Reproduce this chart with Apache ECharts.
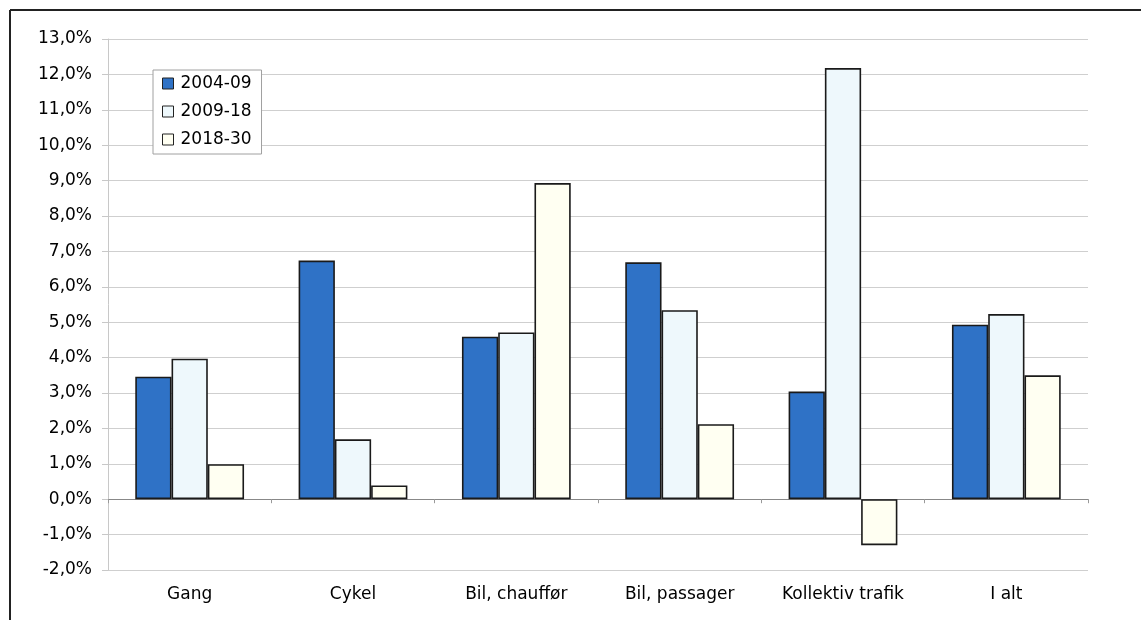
<!DOCTYPE html>
<html>
<head>
<meta charset="utf-8">
<script src="https://cdn.jsdelivr.net/npm/echarts@6/dist/echarts.min.js"></script>
<style>
html,body{margin:0;padding:0;background:#fff;}
#chart{width:1141px;height:620px;}
</style>
</head>
<body>
<div id="chart"></div>
<script>
const categories = ['Gang', 'Cykel', 'Bil, chauffør', 'Bil, passager', 'Kollektiv trafik', 'I alt'];
const seriesNames = ['2004-09', '2009-18', '2018-30'];
const s2004_09 = [3.46, 6.74, 4.59, 6.69, 3.04, 4.93];
const s2009_18 = [3.97, 1.69, 4.71, 5.34, 12.18, 5.23];
const s2018_30 = [0.99, 0.39, 8.93, 2.12, -1.30, 3.50];
const yTicks = {min: -2, max: 13, interval: 1};

const chart = echarts.init(document.getElementById('chart'));
const fmt = v => v.toFixed(1).replace('.', ',') + '%';
const font = '"DejaVu Sans", Verdana, sans-serif';
const colors = ['#2F72C6', '#EEF8FC', '#FFFFF2'];

function mk(name, data, i) {
  return {
    name: name, type: 'bar', data: data,
    barWidth: '22.2%', barGap: '0%',
    itemStyle: {color: colors[i], borderColor: '#1a1a1a', borderWidth: 1.6},
    emphasis: {disabled: true}
  };
}

chart.setOption({
  backgroundColor: '#fff',
  animation: false,
  grid: {left: 108, right: 53, top: 39, bottom: 50},
  legend: {
    orient: 'vertical', left: 153, top: 70,
    data: seriesNames,
    itemWidth: 11, itemHeight: 11, itemGap: 11,
    padding: [5, 10, 6, 9],
    borderColor: '#a0a0a0', borderWidth: 1, backgroundColor: '#fff',
    textStyle: {fontFamily: font, fontSize: 17, color: '#000', padding: [0, 0, 0, 2]},
    icon: 'rect',
    itemStyle: {borderColor: '#222', borderWidth: 1}
  },
  xAxis: {
    type: 'category', data: categories,
    axisLine: {onZero: true, lineStyle: {color: '#888', width: 1}},
    axisTick: {show: true, length: 4, lineStyle: {color: '#999'}},
    axisLabel: {fontFamily: font, fontSize: 17, color: '#000', margin: 16, interval: 0}
  },
  yAxis: {
    type: 'value', min: yTicks.min, max: yTicks.max, interval: yTicks.interval,
    axisLine: {show: true, lineStyle: {color: '#c8c8c8'}},
    axisTick: {show: true, length: 6, lineStyle: {color: '#c8c8c8'}},
    splitLine: {lineStyle: {color: '#cfcfcf', width: 1}},
    axisLabel: {fontFamily: font, fontSize: 17, color: '#000', formatter: fmt, margin: 16}
  },
  graphic: [
    {type: 'line', shape: {x1: 10, y1: 10, x2: 10, y2: 620}, style: {stroke: '#222', lineWidth: 2}},
    {type: 'line', shape: {x1: 10, y1: 10, x2: 1141, y2: 10}, style: {stroke: '#222', lineWidth: 2}}
  ],
  series: [mk(seriesNames[0], s2004_09, 0), mk(seriesNames[1], s2009_18, 1), mk(seriesNames[2], s2018_30, 2)]
});
</script>
</body>
</html>
